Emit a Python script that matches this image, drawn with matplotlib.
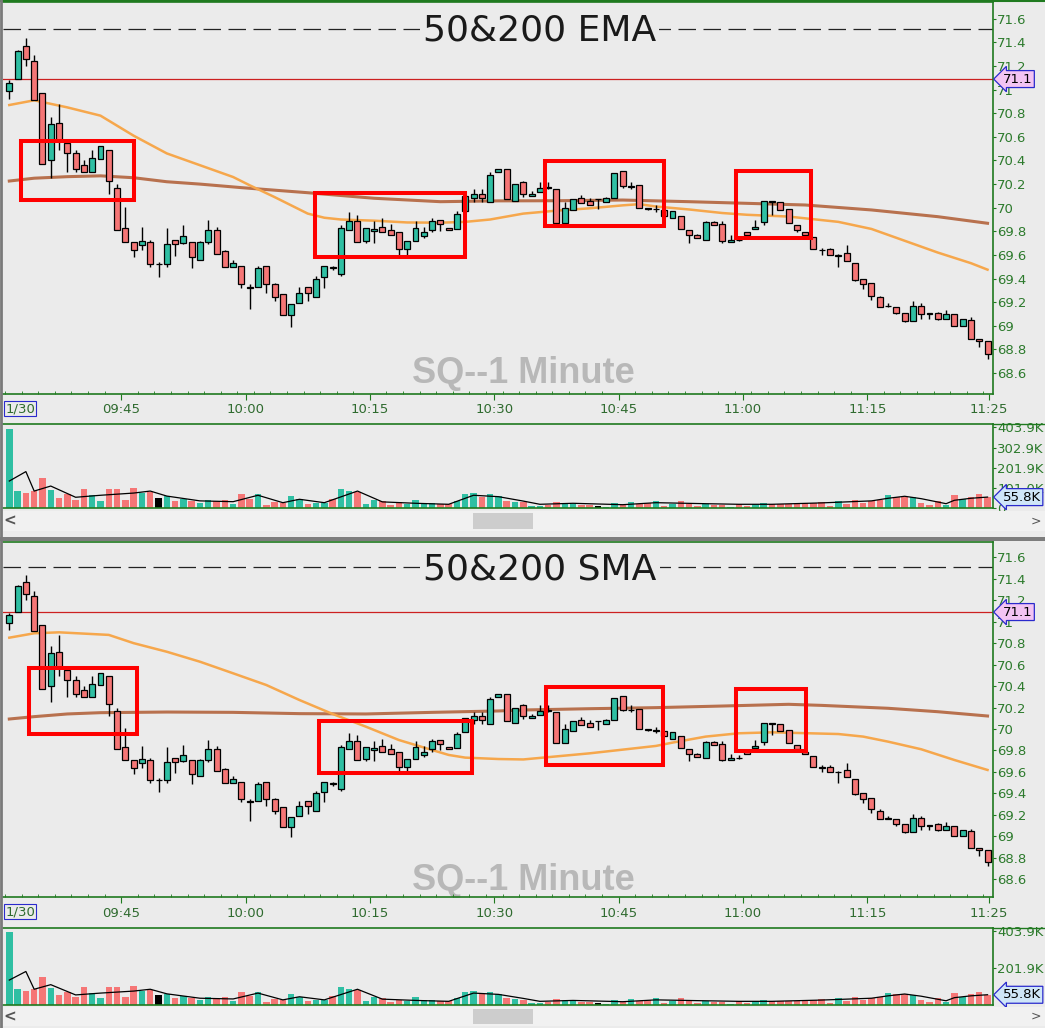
import numpy as np
import matplotlib
matplotlib.use('Agg')
import matplotlib.pyplot as plt
from matplotlib.patches import Rectangle
from matplotlib.lines import Line2D
import matplotlib.ticker as mticker

#++++++++++++++++++++++++++++++++++++
# Data (1-minute SQ bars, 1/30)
#++++++++++++++++++++++++++++++++++++

OPEN = [70.99, 71.09, 71.37, 71.24, 70.97, 70.40, 70.72, 70.55, 70.46, 70.36,
        70.30, 70.41, 70.49, 70.17, 69.83, 69.71, 69.68, 69.71, 69.52, 69.52,
        69.73, 69.70, 69.71, 69.56, 69.71, 69.81, 69.63, 69.50, 69.51, 69.33,
        69.33, 69.51, 69.35, 69.27, 69.09, 69.19, 69.33, 69.24, 69.41, 69.50,
        69.44, 69.81, 69.89, 69.72, 69.80, 69.84, 69.81, 69.79, 69.65, 69.72,
        69.76, 69.81, 69.90, 69.83, 69.82, 69.97, 70.08, 70.12, 70.05, 70.30,
        70.33, 70.06, 70.22, 70.10, 70.13, 70.175, 70.16, 69.87, 69.98, 70.08,
        70.06, 70.07, 70.05, 70.08, 70.31, 70.175, 70.19, 70.00, 69.985, 69.98,
        69.91, 69.93, 69.81, 69.77, 69.73, 69.88, 69.86, 69.71, 69.73, 69.79,
        69.82, 69.88, 70.06, 70.05, 69.99, 69.85, 69.79, 69.75, 69.64, 69.65,
        69.595, 69.62, 69.53, 69.40, 69.36, 69.24, 69.165, 69.16, 69.11, 69.04,
        69.17, 69.105, 69.11, 69.06, 69.10, 69.00, 69.05, 68.89, 68.87]
HIGH = [71.08, 71.34, 71.44, 71.29, 70.97, 70.77, 70.88, 70.55, 70.49, 70.40,
        70.49, 70.52, 70.49, 70.20, 70.01, 69.71, 69.84, 69.73, 69.54, 69.83,
        69.73, 69.85, 69.71, 69.72, 69.90, 69.84, 69.64, 69.56, 69.51, 69.35,
        69.51, 69.51, 69.36, 69.27, 69.18, 69.33, 69.33, 69.42, 69.51, 69.51,
        69.85, 69.96, 69.94, 69.83, 69.89, 69.91, 69.86, 69.79, 69.72, 69.89,
        69.84, 69.91, 69.90, 69.83, 69.97, 70.10, 70.16, 70.16, 70.30, 70.33,
        70.33, 70.20, 70.23, 70.14, 70.22, 70.22, 70.16, 70.05, 70.07, 70.11,
        70.08, 70.07, 70.09, 70.29, 70.31, 70.22, 70.19, 70.00, 70.02, 69.98,
        69.97, 69.93, 69.81, 69.78, 69.89, 69.89, 69.89, 69.77, 69.76, 69.79,
        69.90, 70.06, 70.06, 70.05, 69.99, 69.85, 69.79, 69.75, 69.66, 69.66,
        69.61, 69.68, 69.53, 69.40, 69.36, 69.25, 69.19, 69.16, 69.11, 69.21,
        69.19, 69.105, 69.12, 69.13, 69.10, 69.06, 69.07, 68.89, 68.87]
LOW = [70.92, 71.09, 71.20, 70.91, 70.37, 70.25, 70.49, 70.30, 70.30, 70.30,
       70.30, 70.41, 70.12, 69.81, 69.71, 69.58, 69.64, 69.50, 69.41, 69.50,
       69.59, 69.69, 69.49, 69.56, 69.69, 69.61, 69.50, 69.50, 69.32, 69.14,
       69.33, 69.28, 69.21, 69.09, 68.99, 69.19, 69.21, 69.24, 69.32, 69.47,
       69.42, 69.81, 69.71, 69.70, 69.70, 69.79, 69.77, 69.59, 69.59, 69.72,
       69.74, 69.79, 69.80, 69.81, 69.82, 69.97, 70.05, 70.05, 70.05, 70.30,
       70.07, 70.06, 70.09, 70.10, 70.13, 70.16, 69.87, 69.87, 69.98, 70.04,
       70.02, 69.99, 70.05, 70.08, 70.17, 70.16, 70.00, 69.98, 69.96, 69.93,
       69.91, 69.82, 69.70, 69.74, 69.73, 69.85, 69.70, 69.71, 69.72, 69.77,
       69.82, 69.85, 69.94, 69.98, 69.87, 69.79, 69.77, 69.65, 69.60, 69.60,
       69.50, 69.55, 69.38, 69.31, 69.22, 69.16, 69.16, 69.10, 69.03, 69.04,
       69.06, 69.06, 69.05, 69.06, 69.00, 69.00, 68.89, 68.82, 68.72]
CLOSE = [71.06, 71.33, 71.26, 70.91, 70.37, 70.71, 70.57, 70.46, 70.33, 70.30,
         70.42, 70.52, 70.23, 69.81, 69.71, 69.64, 69.72, 69.52, 69.52, 69.69,
         69.69, 69.76, 69.58, 69.71, 69.81, 69.61, 69.50, 69.53, 69.35, 69.32,
         69.49, 69.35, 69.24, 69.09, 69.18, 69.28, 69.28, 69.40, 69.51, 69.49,
         69.83, 69.89, 69.71, 69.83, 69.82, 69.79, 69.77, 69.65, 69.72, 69.83,
         69.79, 69.89, 69.86, 69.81, 69.95, 70.10, 70.12, 70.08, 70.28, 70.33,
         70.07, 70.20, 70.12, 70.12, 70.17, 70.17, 69.87, 70.00, 70.07, 70.04,
         70.02, 70.07, 70.08, 70.29, 70.18, 70.18, 70.00, 69.99, 69.99, 69.93,
         69.97, 69.82, 69.77, 69.74, 69.88, 69.85, 69.715, 69.73, 69.725, 69.77,
         69.84, 70.06, 70.05, 69.98, 69.87, 69.81, 69.77, 69.65, 69.638, 69.60,
         69.60, 69.55, 69.39, 69.35, 69.25, 69.16, 69.17, 69.11, 69.04, 69.17,
         69.10, 69.10, 69.06, 69.10, 69.00, 69.06, 68.89, 68.87, 68.76]
VOLUME_K = [396, 88, 76, 88, 153, 93, 52, 71, 42, 98,
            65, 38, 98, 98, 43, 101, 75, 83, 52, 60,
            38, 47, 37, 27, 42, 35, 42, 23, 73, 48,
            71, 17, 33, 27, 61, 45, 22, 28, 28, 47,
            96, 86, 81, 23, 43, 37, 17, 30, 20, 42,
            25, 25, 20, 20, 38, 73, 78, 58, 71, 60,
            38, 33, 30, 12, 13, 18, 32, 23, 23, 18,
            18, 12, 7, 27, 15, 32, 20, 27, 37, 12,
            20, 37, 23, 12, 20, 15, 15, 8, 20, 12,
            20, 27, 20, 20, 20, 20, 27, 27, 32, 13,
            37, 20, 42, 25, 37, 42, 66, 58, 58, 55,
            27, 17, 37, 18, 66, 45, 58, 71, 56]

# moving averages sampled off the chart: bar index / value
EMA50_IDX = [0, 3, 7, 11, 15, 19, 23, 27, 29, 32, 36, 38, 40, 44, 48, 52, 55, 58, 62,
             66, 70, 74, 76, 78, 82, 86, 89, 94, 100, 104, 108, 112, 116, 118]
EMA50_VAL = [70.87, 70.91, 70.85, 70.78, 70.61, 70.46, 70.36, 70.26, 70.19, 70.09,
             69.95, 69.915, 69.90, 69.89, 69.875, 69.873, 69.88, 69.90, 69.95,
             69.975, 69.995, 70.02, 70.03, 70.01, 69.985, 69.955, 69.94, 69.925,
             69.88, 69.82, 69.72, 69.62, 69.53, 69.475]
EMA200_IDX = [0, 3, 7, 11, 15, 19, 23, 28, 36, 44, 52, 59, 66, 74, 82, 89, 96, 104, 112, 118]
EMA200_VAL = [70.226, 70.25, 70.263, 70.27, 70.254, 70.22, 70.20, 70.17, 70.127,
              70.08, 70.051, 70.058, 70.059, 70.065, 70.051, 70.037, 70.023,
              69.981, 69.924, 69.868]
SMA50_IDX = [0, 3, 6, 9, 12, 15, 19, 23, 27, 31, 35, 39, 43, 47, 51, 53, 55, 59, 62,
             70, 78, 80, 84, 88, 92, 100, 103, 106, 110, 114, 118]
SMA50_VAL = [70.851, 70.892, 70.901, 70.889, 70.877, 70.80, 70.72, 70.627, 70.519,
             70.41, 70.27, 70.14, 70.022, 69.897, 69.804, 69.758, 69.733, 69.72,
             69.716, 69.773, 69.842, 69.873, 69.929, 69.96, 69.969, 69.953, 69.929,
             69.882, 69.811, 69.711, 69.618]
SMA200_IDX = [0, 3, 7, 11, 19, 27, 35, 43, 51, 59, 62, 70, 78, 86, 94, 98, 106, 112, 118]
SMA200_VAL = [70.093, 70.115, 70.14, 70.152, 70.158, 70.155, 70.143, 70.14, 70.155,
              70.168, 70.177, 70.189, 70.199, 70.214, 70.23, 70.22, 70.193, 70.161,
              70.121]
VOLMA_IDX = [0, 2, 3, 5, 8, 11, 15, 17, 19, 23, 27, 30, 33, 35, 38, 42, 45, 49, 53,
             56, 59, 62, 64, 68, 74, 78, 84, 88, 92, 98, 104, 106, 108, 110, 113,
             114, 116, 118]
VOLMA_VAL = [136, 183, 86, 111, 55, 65, 76, 86, 61, 37, 33, 65, 28, 45, 28, 86, 32,
             25, 20, 65, 58, 36, 20, 25, 18, 28, 23, 20, 20, 27, 37, 50, 60, 48, 23,
             40, 50, 56]

# highlighted zones: (first bar, last bar, low price, high price)
BOXES_EMA = [(1.4, 15.0, 70.065, 70.565), (36.9, 55.0, 69.58, 70.125),
             (64.6, 79.0, 69.845, 70.396), (87.7, 96.7, 69.743, 70.311)]
BOXES_SMA = [(2.4, 15.4, 69.956, 70.566), (37.3, 55.8, 69.593, 70.077),
             (64.7, 78.8, 69.662, 70.389), (87.6, 96.1, 69.792, 70.376)]

LAST_CLOSE_REF = 71.09
LAST_CLOSE_TXT = '71.1'
DASH_LEVEL = 71.51
LAST_VOL = 55.8
TIME_TICKS = [13.5, 28.5, 43.5, 58.5, 73.5, 88.5, 103.5, 118.2]
TIME_LABELS = ['09:45', '10:00', '10:15', '10:30', '10:45', '11:00', '11:15', '11:25']
VOL_TICKS_TOP = [0, 101.0, 201.9, 302.9, 403.9]
VOL_TICKS_BOTTOM = [201.9, 403.9]

#++++++++++++++++++++++++++++++++++++
# Style
#++++++++++++++++++++++++++++++++++++

W, H = 1045, 1028
BG = '#ebebeb'
UP = '#2fbfa3'
DOWN = '#f57676'
GREEN = '#1f7a1f'
LABEL_GREEN = '#2f6b2f'
ORANGE = '#f6a74c'
BROWN = '#b8714e'
XLIM = (-0.76, 118.66)


def rect(top, bottom, left=3, right=993):
    return [left / W, 1 - bottom / H, (right - left) / W, (bottom - top) / H]


def price_fmt(v, pos):
    return f'{v:.1f}'.rstrip('0').rstrip('.')


def draw_price(ax, title, ylim, ma_fast, ma_slow, boxes, title_y, mark_y):
    x = np.arange(len(OPEN))
    o, h, l, c = map(np.array, (OPEN, HIGH, LOW, CLOSE))
    ax.set_facecolor(BG)
    ax.set_xlim(*XLIM)
    ax.set_ylim(*ylim)

    ax.plot(ma_slow[0], ma_slow[1], color=BROWN, lw=2.2, zorder=2)
    ax.plot(ma_fast[0], ma_fast[1], color=ORANGE, lw=1.8, zorder=2)
    ax.axhline(LAST_CLOSE_REF, color='#cc2020', lw=0.9, zorder=1.5)
    ax.axhline(DASH_LEVEL, color='#222222', lw=0.9, dashes=(14, 6), zorder=1.5)

    ax.vlines(x, l, h, color='black', lw=1.0, zorder=3)
    body_lo = np.minimum(o, c)
    body_h = np.maximum(np.abs(c - o), 0.004)
    cols = np.where(c > o, UP, np.where(c < o, DOWN, 'black'))
    ax.bar(x, body_h, bottom=body_lo, width=0.72, color=cols,
           edgecolor='black', linewidth=0.9, zorder=4)

    for x0, x1, y0, y1 in boxes:
        ax.add_patch(Rectangle((x0, y0), x1 - x0, y1 - y0, fill=False,
                               ec='#ff0000', lw=2.9, zorder=5))

    ax.text(0.5424, title_y, title, transform=ax.transAxes, ha='center', va='center',
            fontsize=26, color='#1a1a1a', family='DejaVu Sans', zorder=6,
            bbox=dict(fc=BG, ec='none', pad=2))
    ax.text(0.526, mark_y, 'SQ--1 Minute', transform=ax.transAxes, ha='center',
            va='center', fontsize=26, fontweight='bold', color='#b8b8b8',
            family='Liberation Sans', zorder=0.5)

    ax.spines['left'].set_visible(False)
    for s in ('right', 'bottom', 'top'):
        ax.spines[s].set_color(GREEN)
        ax.spines[s].set_linewidth(1.2)
    ax.yaxis.tick_right()
    ax.yaxis.set_major_locator(mticker.MultipleLocator(0.2))
    ax.yaxis.set_major_formatter(mticker.FuncFormatter(price_fmt))
    ax.tick_params(axis='y', direction='out', length=2, pad=1, color=GREEN,
                   labelcolor='#2c7a2c', labelsize=9.5)
    ax.set_xticks(TIME_TICKS)
    ax.set_xticklabels(TIME_LABELS)
    ax.set_xticks(np.arange(-0.5, 119, 2), minor=True)
    ax.tick_params(axis='x', which='major', direction='out', length=4, pad=3,
                   color=GREEN, labelcolor=LABEL_GREEN, labelsize=9.5)
    ax.tick_params(axis='x', which='minor', direction='in', length=2.5, color=GREEN)
    ax.text(1.3, -0.022, '1/30', transform=ax.get_xaxis_transform(), ha='center',
            va='top', fontsize=9.5, color=LABEL_GREEN,
            bbox=dict(fc='none', ec='#2a2acc', lw=0.8, pad=0.8))

    ax.annotate(LAST_CLOSE_TXT, xy=(1.0, LAST_CLOSE_REF), xycoords=('axes fraction', 'data'),
                xytext=(7, 0), textcoords='offset points', ha='left', va='center',
                fontsize=9.5, color='black', annotation_clip=False, zorder=7,
                bbox=dict(boxstyle='larrow,pad=0.15', fc='#f3c4f3', ec='#2a2acc', lw=0.9))


def draw_volume(ax, ymax, ticks):
    x = np.arange(len(VOLUME_K))
    o, c = np.array(OPEN), np.array(CLOSE)
    cols = np.where(c > o, UP, np.where(c < o, DOWN, 'black'))
    ax.set_facecolor(BG)
    ax.bar(x, VOLUME_K, width=0.78, color=cols, zorder=2)
    ax.plot(VOLMA_IDX, VOLMA_VAL, color='black', lw=0.9, zorder=3)
    ax.set_xlim(*XLIM)
    ax.set_ylim(0, ymax)
    ax.set_xticks([])
    ax.spines['left'].set_visible(False)
    for s in ('right', 'bottom', 'top'):
        ax.spines[s].set_color(GREEN)
        ax.spines[s].set_linewidth(1.2)
    ax.yaxis.tick_right()
    ax.set_yticks(ticks)
    ax.set_yticklabels(['0' if t == 0 else f'{t:.1f}K' for t in ticks])
    ax.tick_params(axis='y', direction='out', length=2, pad=1, color=GREEN,
                   labelcolor='#2c7a2c', labelsize=9.5)
    ax.annotate(f'{LAST_VOL}K', xy=(1.0, LAST_VOL), xycoords=('axes fraction', 'data'),
                xytext=(7, 0), textcoords='offset points', ha='left', va='center',
                fontsize=9.5, color='black', annotation_clip=False, zorder=7,
                bbox=dict(boxstyle='larrow,pad=0.15', fc='#cfe6f8', ec='#2a2acc', lw=0.9))


def scrollbar(fig, top, bottom):
    fig.patches.append(Rectangle((0, 1 - bottom / H), 1, (bottom - top) / H,
                                 transform=fig.transFigure, fc='#f1f1f1', ec='none'))
    fig.patches.append(Rectangle((473 / W, 1 - (bottom - 2) / H), 60 / W, (bottom - top - 4) / H,
                                 transform=fig.transFigure, fc='#cdcdcd', ec='none'))
    mid = 1 - (top + bottom) / 2 / H
    fig.text(10 / W, mid, '<', ha='center', va='center', fontsize=11, color='#555555',
             fontweight='bold')
    fig.text(1036 / W, mid, '>', ha='center', va='center', fontsize=9, color='#555555')


#++++++++++++++++++++++++++++++++++++
# Main
#++++++++++++++++++++++++++++++++++++

fig = plt.figure(figsize=(W / 100, H / 100), dpi=100, facecolor=BG)

scrollbar(fig, 511, 531)
scrollbar(fig, 1007, 1026)
fig.patches.append(Rectangle((0, 1 - 541 / H), 1, 4 / H, transform=fig.transFigure,
                             fc='#7d7d7d', ec='none'))
fig.lines.append(Line2D([0, 1], [1 - 0.6 / H] * 2, transform=fig.transFigure,
                        color=GREEN, lw=1.5))
fig.lines.append(Line2D([993 / W, 1], [1 - 424 / H] * 2, transform=fig.transFigure,
                        color=GREEN, lw=1.0))
fig.lines.append(Line2D([993 / W, 1], [1 - 928.3 / H] * 2, transform=fig.transFigure,
                        color=GREEN, lw=1.0))

ax1 = fig.add_axes(rect(2, 393.7))
draw_price(ax1, '50&200 EMA', (68.424, 71.743), (EMA50_IDX, EMA50_VAL),
           (EMA200_IDX, EMA200_VAL), BOXES_EMA, 0.9285, 0.0503)
axv1 = fig.add_axes(rect(424, 508.3))
draw_volume(axv1, 420.4, VOL_TICKS_TOP)

ax2 = fig.add_axes(rect(542, 897.3))
draw_price(ax2, '50&200 SMA', (68.431, 71.743), (SMA50_IDX, SMA50_VAL),
           (SMA200_IDX, SMA200_VAL), BOXES_SMA, 0.924, 0.0486)
axv2 = fig.add_axes(rect(928.3, 1005))
draw_volume(axv2, 418.6, VOL_TICKS_BOTTOM)

fig.lines.append(Line2D([1.2 / W] * 2, [0, 1], transform=fig.transFigure,
                        color='#7a7a7a', lw=2.0))

fig.savefig('out.png', dpi=100, facecolor=BG)
